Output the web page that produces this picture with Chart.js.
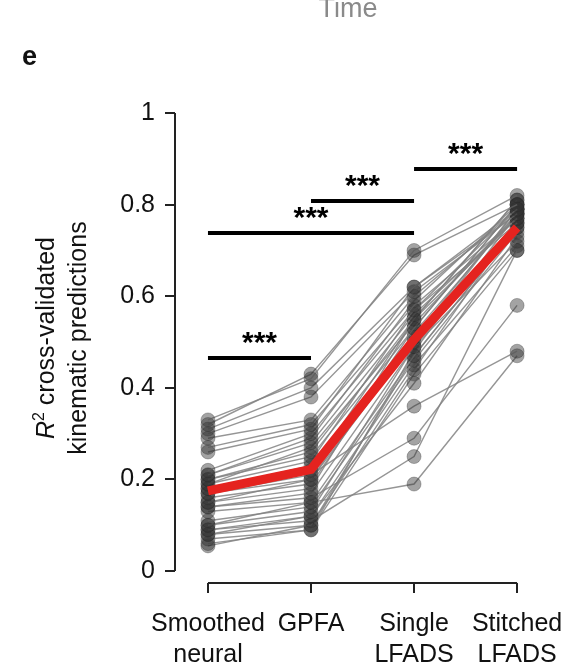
<!DOCTYPE html>
<html>
<head>
<meta charset="utf-8">
<script src="https://cdn.jsdelivr.net/npm/chart.js@4"></script>
<style>
  html, body { margin: 0; padding: 0; background: #fff; }
  #wrap { width: 588px; height: 663px; }
</style>
</head>
<body>
<div id="wrap"><canvas id="chart" width="588" height="663"></canvas></div>
<script>
// conditions on the x axis
const xTicks = [0, 1, 2, 3];
const xLabels = [["Smoothed", "neural"], ["GPFA"], ["Single", "LFADS"], ["Stitched", "LFADS"]];
const yTicks = [0, 0.2, 0.4, 0.6, 0.8, 1];

// one value per session, same index across arrays
const smoothed = [0.33, 0.32, 0.31, 0.30, 0.29, 0.27, 0.26, 0.22, 0.21, 0.21, 0.20, 0.20, 0.19, 0.19, 0.18, 0.18, 0.17,
  0.17, 0.16, 0.15, 0.15, 0.14, 0.14, 0.13, 0.11, 0.10, 0.10, 0.09, 0.09, 0.08, 0.08, 0.07, 0.06, 0.055];
const gpfa = [0.42, 0.43, 0.40, 0.38, 0.33, 0.32, 0.31, 0.30, 0.28, 0.29, 0.26, 0.25, 0.27, 0.24, 0.22, 0.23, 0.21,
  0.20, 0.19, 0.18, 0.20, 0.17, 0.16, 0.15, 0.14, 0.13, 0.15, 0.12, 0.11, 0.12, 0.10, 0.09, 0.09, 0.10];
const singleLfads = [0.70, 0.69, 0.62, 0.61, 0.60, 0.58, 0.62, 0.57, 0.56, 0.59, 0.55, 0.53, 0.54, 0.57, 0.55, 0.51, 0.36,
  0.53, 0.52, 0.55, 0.50, 0.49, 0.29, 0.47, 0.46, 0.49, 0.19, 0.41, 0.25, 0.45, 0.44, 0.43, 0.48, 0.47];
const stitchedLfads = [0.82, 0.80, 0.79, 0.78, 0.79, 0.77, 0.78, 0.76, 0.77, 0.80, 0.81, 0.80, 0.78, 0.79, 0.81, 0.79, 0.48,
  0.80, 0.78, 0.77, 0.79, 0.76, 0.58, 0.75, 0.74, 0.72, 0.47, 0.73, 0.70, 0.71, 0.76, 0.70, 0.78, 0.75];

// red mean line
const meanValues = [0.175, 0.222, 0.505, 0.75];

// significance bars (from, to, height)
const sigFrom = [0, 0, 1, 2];
const sigTo = [1, 2, 2, 3];
const sigLevel = [0.465, 0.738, 0.808, 0.878];
const sigText = ["***", "***", "***", "***"];

const FONT = "'Liberation Sans', Arial, sans-serif";
const columns = [smoothed, gpfa, singleLfads, stitchedLfads];

const datasets = [];
datasets.push({
  data: meanValues.map((v, i) => ({ x: xTicks[i], y: v })),
  borderColor: "#e5231f",
  borderWidth: 9,
  pointRadius: 0,
  order: 0
});
smoothed.forEach((_, s) => {
  datasets.push({
    data: columns.map((col, i) => ({ x: xTicks[i], y: col[s] })),
    borderColor: "rgba(130,130,130,0.85)",
    borderWidth: 1.4,
    pointRadius: 7,
    pointBackgroundColor: "rgba(50,50,50,0.45)",
    pointBorderColor: "rgba(40,40,40,0.3)",
    pointBorderWidth: 1,
    order: 1
  });
});

// axis lines, titles and significance marks
const extras = {
  id: "extras",
  afterDraw(chart) {
    const ctx = chart.ctx;
    const x = chart.scales.x, y = chart.scales.y;
    ctx.save();
    ctx.strokeStyle = "#222";
    ctx.lineWidth = 2;
    ctx.beginPath();
    ctx.moveTo(x.left, y.getPixelForValue(0));
    ctx.lineTo(x.left, y.getPixelForValue(1));
    ctx.moveTo(x.getPixelForValue(0), y.bottom);
    ctx.lineTo(x.getPixelForValue(3), y.bottom);
    ctx.stroke();

    // significance
    ctx.strokeStyle = "#000";
    ctx.lineWidth = 4;
    ctx.fillStyle = "#000";
    ctx.font = "bold 30px " + FONT;
    ctx.textAlign = "center";
    ctx.textBaseline = "alphabetic";
    sigLevel.forEach((lv, i) => {
      const py = y.getPixelForValue(lv);
      const x1 = x.getPixelForValue(sigFrom[i]), x2 = x.getPixelForValue(sigTo[i]);
      ctx.beginPath();
      ctx.moveTo(x1, py);
      ctx.lineTo(x2, py);
      ctx.stroke();
      ctx.fillText(sigText[i], (x1 + x2) / 2, py - 6);
    });

    // y title
    const cy = (y.getPixelForValue(0) + y.getPixelForValue(1)) / 2 - 4;
    ctx.fillStyle = "#111";
    ctx.textAlign = "left";
    const f1 = "italic 25px " + FONT, f2 = "16px " + FONT, f3 = "25px " + FONT;
    ctx.font = f1; const wR = ctx.measureText("R").width;
    ctx.font = f2; const w2 = ctx.measureText("2").width;
    ctx.font = f3; const wRest = ctx.measureText(" cross-validated").width;
    const total = wR + w2 + wRest;
    ctx.save();
    ctx.translate(54, cy);
    ctx.rotate(-Math.PI / 2);
    let px = -total / 2;
    ctx.font = f1; ctx.fillText("R", px, 0); px += wR;
    ctx.font = f2; ctx.fillText("2", px, -10); px += w2;
    ctx.font = f3; ctx.fillText(" cross-validated", px, 0);
    ctx.restore();
    ctx.save();
    ctx.translate(86, cy);
    ctx.rotate(-Math.PI / 2);
    ctx.textAlign = "center";
    ctx.font = f3;
    ctx.fillText("kinematic predictions", 0, 0);
    ctx.restore();

    // panel letter and cut-off heading
    ctx.textAlign = "left";
    ctx.font = "bold 27px " + FONT;
    ctx.fillStyle = "#111";
    ctx.fillText("e", 22, 65);
    ctx.textAlign = "center";
    ctx.font = "27px " + FONT;
    ctx.fillStyle = "#8a8a8a";
    ctx.fillText("Time", 348, 17);
    ctx.restore();
  }
};

new Chart(document.getElementById("chart"), {
  type: "scatter",
  data: { datasets },
  options: {
    responsive: false,
    animation: false,
    showLine: true,
    layout: { padding: { left: 115, right: 40, top: 113, bottom: 0 } },
    plugins: { legend: { display: false }, tooltip: { enabled: false } },
    scales: {
      x: {
        type: "linear",
        min: -0.32,
        max: 3.3,
        afterBuildTicks: s => { s.ticks = xTicks.map(v => ({ value: v })); },
        afterFit: s => { s.height = 80; },
        border: { display: false },
        grid: { display: true, drawOnChartArea: false, drawTicks: true, tickLength: 10, color: "#222", lineWidth: 2 },
        ticks: {
          autoSkip: false,
          maxRotation: 0,
          padding: 16,
          color: "#111",
          font: { family: FONT, size: 25, lineHeight: 1.24 },
          callback: v => xLabels[v]
        }
      },
      y: {
        min: -0.026,
        max: 1,
        afterBuildTicks: s => { s.ticks = yTicks.map(v => ({ value: v })); },
        afterFit: s => { s.width = 60; },
        border: { display: false },
        grid: { display: true, drawOnChartArea: false, drawTicks: true, tickLength: 10, color: "#222", lineWidth: 2 },
        ticks: {
          padding: 10,
          color: "#111",
          font: { family: FONT, size: 25 },
          callback: v => (v === 0 || v === 1) ? String(v) : v.toFixed(1)
        }
      }
    }
  },
  plugins: [extras]
});
</script>
</body>
</html>
